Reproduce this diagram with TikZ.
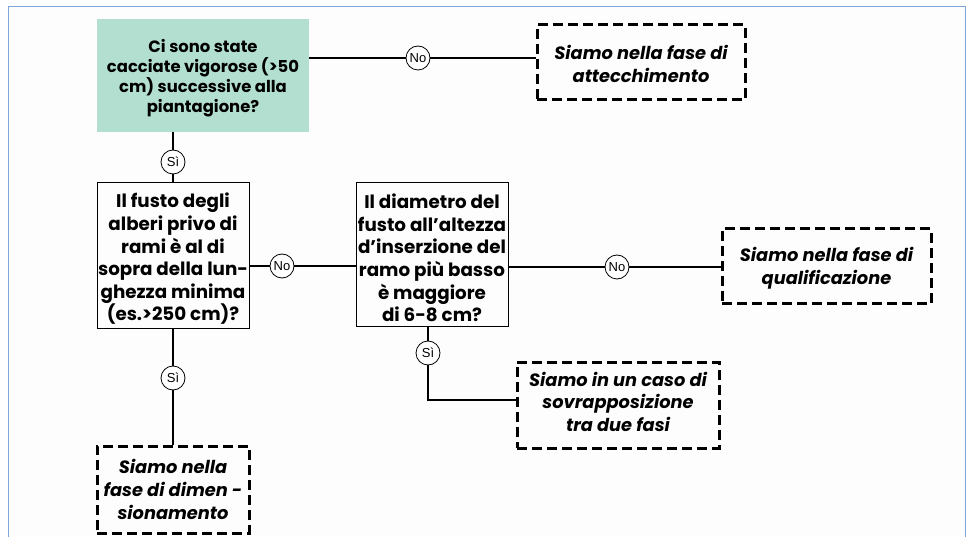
\documentclass[tikz,border=0pt]{standalone}
\usepackage{fontspec}
\setmainfont{Poppins}
\newfontfamily\helv{Liberation Sans}
\definecolor{mint}{HTML}{B3DFD0}
\definecolor{framec}{HTML}{7FA6D6}
\definecolor{inner}{HTML}{FDFDFD}
\newcommand{\topstrut}[1]{\rule{0pt}{#1}}
\newcommand{\botstrut}[1]{\rule[-#1]{0pt}{0pt}}
\tikzset{
  q/.style={draw=black, line width=1pt, align=center, inner sep=0pt,
    font=\bfseries\fontsize{18.3}{22.6}\selectfont},
  qgreen/.style={fill=mint, align=center, inner sep=0pt,
    font=\bfseries\fontsize{16.4}{20}\selectfont},
  ans/.style={draw=black, line width=3pt, dash pattern=on 10pt off 5pt,
    align=center, inner sep=0pt,
    font=\bfseries\itshape\fontsize{17.8}{22.6}\selectfont},
  lbl/.style={circle, draw=black, fill=white, line width=0.8pt, minimum size=24pt,
    inner sep=0pt, font=\helv\fontsize{13}{14}\selectfont},
  conn/.style={line width=1.8pt, draw=black}
}
\begin{document}
\begin{tikzpicture}[x=1pt,y=-1pt]
\useasboundingbox (0,0) rectangle (969,537);
\fill[inner] (8,7) rectangle (965,540);
\draw[framec, line width=1pt] (8,540) -- (8,7) -- (965,7) -- (965,540);

\node[qgreen, minimum width=212pt, minimum height=113pt] (green) at (203,75.5)
  {\topstrut{19pt}Ci sono state\\cacciate vigorose (>50\\cm) successive alla\\piantagione?};
\node[ans, minimum width=208pt, minimum height=75pt] (att) at (641,62.5)
  {\topstrut{17.5pt}Siamo nella fase di\\attecchimento};
\node[q, minimum width=152pt, minimum height=145pt] (fusto) at (173,255.5)
  {\topstrut{21.5pt}Il fusto degli\\alberi privo di\\rami è al di\\sopra della lun-\\ghezza minima\\(es.>250 cm)?};
\node[q, minimum width=152pt, minimum height=143pt] (diam) at (432,254.5)
  {\topstrut{21.5pt}Il diametro del\\fusto all’altezza\\d’inserzione del\\ramo più basso\\è maggiore\\di 6-8 cm?};
\node[ans, minimum width=209pt, minimum height=75pt] (qual) at (826.5,266.5)
  {\topstrut{17.5pt}Siamo nella fase di\\qualificazione};
\node[ans, minimum width=202pt, minimum height=86pt] (sovr) at (618,405)
  {Siamo in un caso di\\sovrapposizione\\tra due fasi\botstrut{7pt}};
\node[ans, minimum width=152pt, minimum height=87pt] (dimen) at (173,489.5)
  {Siamo nella\\fase di dimen -\\sionamento};

\coordinate (p1) at (418,58);
\coordinate (p2) at (173,162);
\coordinate (p3) at (282,266);
\coordinate (p4) at (617,267);
\coordinate (p5) at (428,353);
\coordinate (p6) at (173,378);
\coordinate (bend) at (428,400);

\draw[conn] (p1 -| green.east) -- (p1 -| att.west);
\draw[conn] (p2 |- green.south) -- (p2 |- fusto.north);
\draw[conn] (p3 -| fusto.east) -- (p3 -| diam.west);
\draw[conn] (p4 -| diam.east) -- (p4 -| qual.west);
\draw[conn] (p5 |- diam.south) -- (bend) -- (bend -| sovr.west);
\draw[conn] (p6 |- fusto.south) -- (p6 |- dimen.north);

\node[lbl] (n1) at (p1) {No};
\node[lbl] (s1) at (p2) {Sì};
\node[lbl] (n2) at (p3) {No};
\node[lbl] (n3) at (p4) {No};
\node[lbl] (s2) at (p5) {Sì};
\node[lbl] (s3) at (p6) {Sì};
\end{tikzpicture}
\end{document}
